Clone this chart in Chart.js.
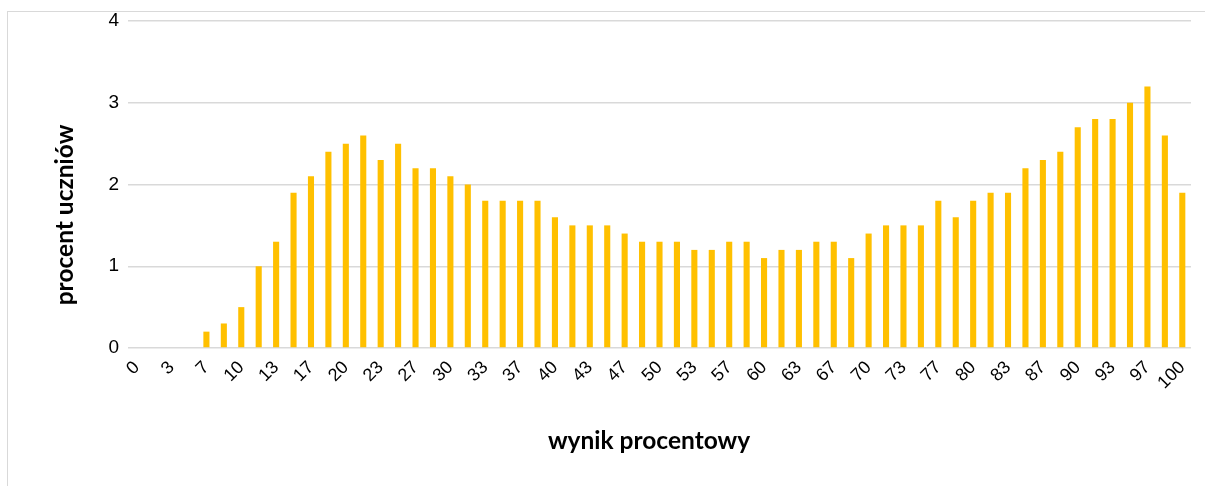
<!DOCTYPE html>
<html>
<head>
    <meta charset="utf-8">
    <title>Rozkład wyników</title>
    <script src="https://cdn.jsdelivr.net/npm/chart.js"></script>
    <style>
        body { margin: 0; background: #fff; }
        #wrap { position: relative; width: 1205px; height: 486px; overflow: hidden; }
        #frame { position: absolute; left: 7px; top: 11px; width: 1300px; height: 600px; border: 1px solid #d9d9d9; }
        canvas { position: absolute; left: 0; top: 0; }
    </style>
</head>
<body>
    <div id="wrap">
        <div id="frame"></div>
        <canvas id="scoreChart" width="1205" height="486"></canvas>
    </div>

    <script>
        // wynik procentowy (k/60 * 100, rounded)
        const categories = ['0', '2', '3', '5', '7', '8', '10', '12', '13', '15', '17', '18', '20', '22', '23', '25',
            '27', '28', '30', '32', '33', '35', '37', '38', '40', '42', '43', '45', '47', '48', '50', '52', '53',
            '55', '57', '58', '60', '62', '63', '65', '67', '68', '70', '72', '73', '75', '77', '78', '80', '82',
            '83', '85', '87', '88', '90', '92', '93', '95', '97', '98', '100'];

        // procent uczniów
        const percentOfStudents = [0, 0, 0, 0, 0.2, 0.3, 0.5, 1.0, 1.3, 1.9, 2.1, 2.4, 2.5, 2.6, 2.3, 2.5,
            2.2, 2.2, 2.1, 2.0, 1.8, 1.8, 1.8, 1.8, 1.6, 1.5, 1.5, 1.5, 1.4, 1.3, 1.3, 1.3, 1.2,
            1.2, 1.3, 1.3, 1.1, 1.2, 1.2, 1.3, 1.3, 1.1, 1.4, 1.5, 1.5, 1.5, 1.8, 1.6, 1.8, 1.9,
            1.9, 2.2, 2.3, 2.4, 2.7, 2.8, 2.8, 3.0, 3.2, 2.6, 1.9];

        const yTicks = [0, 1, 2, 3, 4];

        const xTitle = 'wynik procentowy';
        const yTitle = 'procent uczniów';

        // axis titles sit where Excel put them, not centred on the plot
        const axisTitles = {
            id: 'axisTitles',
            afterDraw(chart) {
                const ctx = chart.ctx;
                ctx.save();
                ctx.fillStyle = '#000';
                ctx.font = 'bold 24.5px Lato';
                ctx.textAlign = 'center';
                ctx.textBaseline = 'alphabetic';
                ctx.fillText(xTitle, 649, 449);
                ctx.translate(73, 215);
                ctx.rotate(-Math.PI / 2);
                ctx.fillText(yTitle, 0, 0);
                ctx.restore();
            }
        };

        new Chart(document.getElementById('scoreChart').getContext('2d'), {
            type: 'bar',
            data: {
                labels: categories,
                datasets: [{
                    data: percentOfStudents,
                    backgroundColor: '#FFC000',
                    borderWidth: 0,
                    barPercentage: 0.35,
                    categoryPercentage: 1
                }]
            },
            options: {
                responsive: false,
                animation: false,
                layout: { padding: { left: 0, top: 21, right: 14, bottom: 0 } },
                plugins: {
                    legend: { display: false },
                    tooltip: { enabled: false }
                },
                scales: {
                    x: {
                        grid: { display: false },
                        border: { display: false },
                        ticks: {
                            autoSkip: false,
                            maxRotation: 45,
                            minRotation: 45,
                            padding: 1,
                            color: '#000',
                            font: { family: 'Liberation Sans', size: 18 },
                            callback: function (value, index) {
                                return index % 2 === 0 ? categories[index] : '';
                            }
                        },
                        afterFit(scale) { scale.height = 138; }
                    },
                    y: {
                        min: yTicks[0],
                        max: yTicks[yTicks.length - 1],
                        grid: { color: '#d9d9d9', lineWidth: 1.5, drawTicks: false },
                        border: { display: false },
                        afterBuildTicks(scale) { scale.ticks = yTicks.map(v => ({ value: v })); },
                        ticks: {
                            padding: 9,
                            color: '#000',
                            font: { family: 'Liberation Sans', size: 19 }
                        },
                        afterFit(scale) { scale.width = 128; }
                    }
                }
            },
            plugins: [axisTitles]
        });
    </script>
</body>
</html>
